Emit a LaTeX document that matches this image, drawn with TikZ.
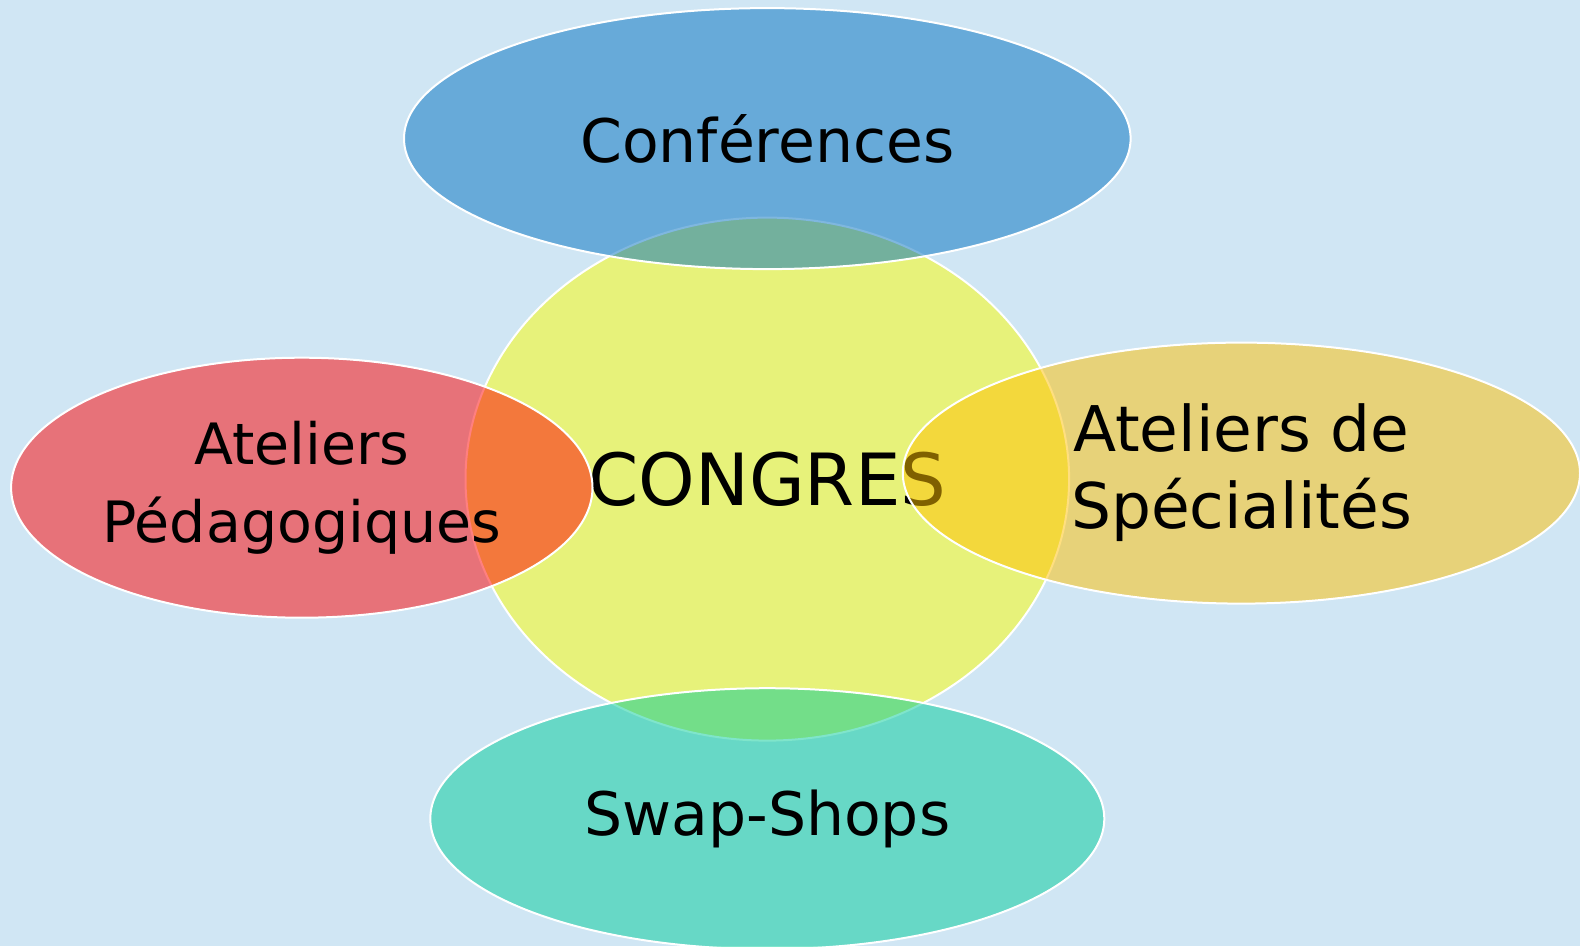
\documentclass[tikz,border=0pt]{standalone}
\usepackage{fontspec}
\setmainfont{DejaVu Sans}
\usetikzlibrary{shapes.geometric}
\definecolor{bgc}{RGB}{208,230,244}
\definecolor{cyel}{RGB}{231,242,122}
\definecolor{cblue}{RGB}{0,112,192}
\definecolor{cred}{RGB}{255,0,0}
\definecolor{cgold}{RGB}{255,192,0}
\definecolor{cteal}{RGB}{0,204,153}
\tikzset{
  blob/.style={ellipse, draw=white, line width=2pt, inner sep=0pt, align=center,
    fill opacity=0.5, text opacity=1, draw opacity=1, text=black,
    font=\fontsize{60}{77}\selectfont},
}
\begin{document}
\begin{tikzpicture}[x=1pt,y=-1pt]
\fill[bgc] (0,0) rectangle (1580,946);
\useasboundingbox (0,0) rectangle (1580,946);
\node[ellipse, draw=white, line width=2pt, fill=cyel, inner sep=0pt,
  minimum width=603.6pt, minimum height=523pt,
  font=\fontsize{72}{80}\selectfont] (cong) at (767.3,479.1) {CONGRES};
\node[blob, fill=cblue, minimum width=726.6pt, minimum height=261pt] (conf) at (767.3,138.6) {Conférences};
\node[blob, fill=cred, minimum width=581.4pt, minimum height=260pt,
  font=\fontsize{57}{78}\selectfont] (peda) at (301.8,487.7) {\raisebox{-5pt}{Ateliers}\\\raisebox{-5pt}{Pédagogiques}};
\node[blob, fill=cgold, minimum width=677.2pt, minimum height=261pt,
  font=\fontsize{63}{77}\selectfont] (spec) at (1241.4,473.1) {Ateliers de\\Spécialités};
\node[blob, fill=cteal, minimum width=674pt, minimum height=261pt] (swap) at (767.3,818.7) {\raisebox{-4pt}{Swap-Shops}};
\end{tikzpicture}
\end{document}
